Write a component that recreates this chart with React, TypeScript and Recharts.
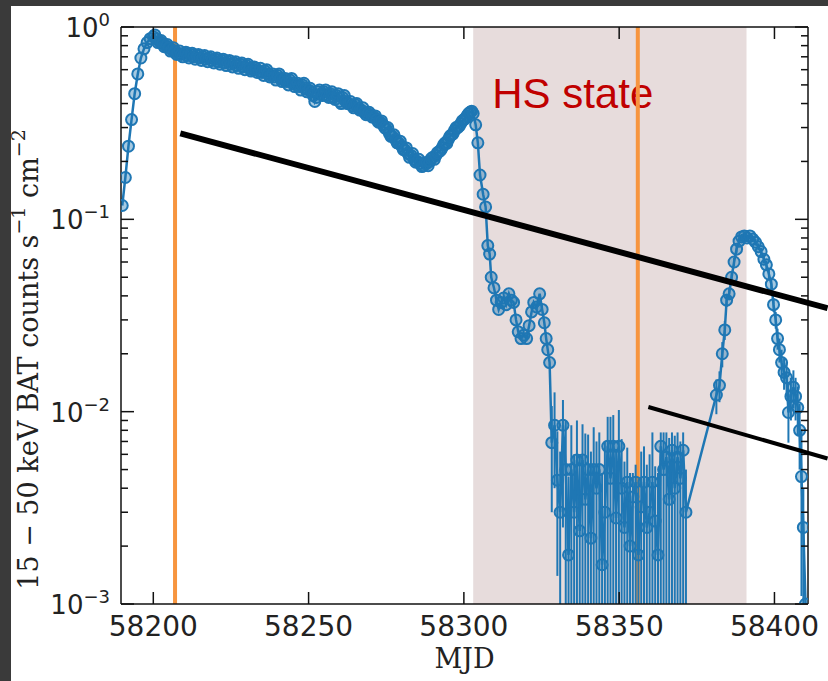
import { LineChart, Line, XAxis, YAxis, ErrorBar, ReferenceArea, ReferenceLine, Label } from 'recharts';

// Swift/BAT 15-50 keV light curve
const outburstMjd = [
  58190, 58191, 58192, 58193, 58194, 58195, 58196, 58197, 58198, 58199,
  58200, 58201, 58202, 58203, 58204, 58205, 58206, 58207, 58208, 58209,
  58210, 58211, 58212, 58213, 58214, 58215, 58216, 58217, 58218, 58219,
  58220, 58221, 58222, 58223, 58224, 58225, 58226, 58227, 58228, 58229,
  58230, 58231, 58232, 58233, 58234, 58235, 58236, 58237, 58238, 58239,
  58240, 58241, 58242, 58243, 58244, 58245, 58246, 58247, 58248, 58249,
  58250, 58251, 58252, 58253, 58254, 58255, 58256, 58257, 58258, 58259,
  58260, 58261, 58262, 58263, 58264, 58265, 58266, 58267, 58268, 58269,
  58270, 58271, 58272, 58273, 58274, 58275, 58276, 58277, 58278, 58279,
  58280, 58281, 58282, 58283, 58284, 58285, 58286, 58287, 58288, 58289,
  58290, 58291, 58292, 58293, 58294, 58295, 58296, 58297, 58298, 58299,
  58300, 58301, 58302, 58303,
];
const outburstRate = [
  0.118, 0.165, 0.24, 0.33, 0.45, 0.57, 0.69, 0.77, 0.83, 0.87,
  0.89, 0.87, 0.84, 0.82, 0.80, 0.78, 0.76, 0.75, 0.73, 0.72,
  0.73, 0.71, 0.72, 0.70, 0.71, 0.69, 0.70, 0.68, 0.69, 0.67,
  0.68, 0.66, 0.67, 0.65, 0.66, 0.64, 0.65, 0.63, 0.64, 0.62,
  0.63, 0.61, 0.60, 0.61, 0.59, 0.58, 0.59, 0.57, 0.56, 0.55,
  0.56, 0.54, 0.53, 0.52, 0.53, 0.51, 0.50, 0.49, 0.50, 0.48,
  0.47, 0.46, 0.41, 0.46, 0.45, 0.46, 0.44, 0.45, 0.43, 0.44,
  0.41, 0.43, 0.41, 0.40, 0.39, 0.395, 0.38, 0.37, 0.36, 0.355,
  0.35, 0.34, 0.33, 0.32, 0.31, 0.295, 0.28, 0.27, 0.26, 0.25,
  0.24, 0.23, 0.22, 0.215, 0.205, 0.20, 0.195, 0.19, 0.195, 0.20,
  0.21, 0.215, 0.225, 0.235, 0.25, 0.26, 0.275, 0.29, 0.30, 0.315,
  0.33, 0.345, 0.36, 0.355,
];

// second daily visit, half a day later (gives the band its thickness)
const visitBMjd = [
  58200.5, 58201.5, 58202.5, 58203.5, 58204.5, 58205.5, 58206.5, 58207.5, 58208.5, 58209.5,
  58210.5, 58211.5, 58212.5, 58213.5, 58214.5, 58215.5, 58216.5, 58217.5, 58218.5, 58219.5,
  58220.5, 58221.5, 58222.5, 58223.5, 58224.5, 58225.5, 58226.5, 58227.5, 58228.5, 58229.5,
  58230.5, 58231.5, 58232.5, 58233.5, 58234.5, 58235.5, 58236.5, 58237.5, 58238.5, 58239.5,
  58240.5, 58241.5, 58242.5, 58243.5, 58244.5, 58245.5, 58246.5, 58247.5, 58248.5, 58249.5,
  58250.5, 58251.5, 58252.5, 58253.5, 58254.5, 58255.5, 58256.5, 58257.5, 58258.5, 58259.5,
  58260.5, 58261.5, 58262.5, 58263.5, 58264.5, 58265.5, 58266.5, 58267.5, 58268.5, 58269.5,
  58270.5, 58271.5, 58272.5, 58273.5, 58274.5, 58275.5, 58276.5, 58277.5, 58278.5, 58279.5,
  58280.5, 58281.5, 58282.5, 58283.5, 58284.5, 58285.5, 58286.5, 58287.5, 58288.5, 58289.5,
  58290.5, 58291.5, 58292.5, 58293.5, 58294.5, 58295.5, 58296.5, 58297.5, 58298.5, 58299.5,
  58300.5, 58301.5, 58302.5,
];
const visitBRate = [
  0.91, 0.83, 0.85, 0.79, 0.81, 0.75, 0.78, 0.72, 0.75, 0.70,
  0.74, 0.69, 0.73, 0.68, 0.72, 0.67, 0.71, 0.66, 0.70, 0.65,
  0.69, 0.64, 0.68, 0.63, 0.67, 0.62, 0.66, 0.61, 0.65, 0.60,
  0.64, 0.59, 0.62, 0.58, 0.61, 0.56, 0.60, 0.55, 0.57, 0.53,
  0.57, 0.52, 0.54, 0.50, 0.54, 0.49, 0.51, 0.47, 0.51, 0.46,
  0.48, 0.44, 0.43, 0.47, 0.44, 0.47, 0.43, 0.46, 0.42, 0.45,
  0.40, 0.44, 0.40, 0.41, 0.38, 0.40, 0.37, 0.38, 0.35, 0.36,
  0.34, 0.345, 0.32, 0.325, 0.30, 0.30, 0.27, 0.275, 0.25, 0.255,
  0.23, 0.235, 0.21, 0.22, 0.198, 0.205, 0.188, 0.197, 0.19, 0.207,
  0.205, 0.222, 0.228, 0.245, 0.248, 0.27, 0.278, 0.30, 0.305, 0.325,
  0.335, 0.355, 0.365,
];

const decayMjd = [
  58303.8, 58304.5, 58305.2, 58306.2, 58307.0, 58307.7, 58308.3, 58308.8, 58309.7, 58310.5,
  58311.2, 58312.0, 58312.8, 58313.6, 58314.5, 58315.3, 58316.0, 58316.8, 58317.5, 58318.4,
  58319.3, 58320.2, 58321.0, 58321.8, 58322.5, 58323.4, 58324.4, 58325.2, 58325.9, 58326.5,
  58327.0, 58327.6,
];
const decayRate = [
  0.31, 0.25, 0.17, 0.135, 0.116, 0.073, 0.066, 0.050, 0.044, 0.038,
  0.034, 0.037, 0.039, 0.036, 0.041, 0.038, 0.037, 0.030, 0.026, 0.024,
  0.025, 0.024, 0.028, 0.033, 0.037, 0.035, 0.041, 0.034, 0.029, 0.024,
  0.021, 0.018,
];

const hsMjd = [
  58328.3, 58329.2, 58330.1, 58331.0, 58331.9, 58332.8, 58333.7, 58334.6, 58335.5, 58336.4,
  58337.3, 58338.2, 58339.1, 58340.0, 58340.9, 58341.8, 58342.7, 58343.6, 58344.5, 58345.4,
  58346.3, 58347.2, 58348.1, 58349.0, 58349.9, 58350.8, 58351.7, 58352.6, 58353.5, 58354.4,
  58355.3, 58356.2, 58357.1, 58358.0, 58358.9, 58359.8, 58360.7, 58361.6, 58362.5, 58363.4,
  58364.3, 58365.2, 58366.1, 58367.0, 58367.9, 58368.8, 58369.7, 58370.6, 58371.5,
];
const hsRate = [
  0.0069, 0.0085, 0.0044, 0.0030, 0.0085, 0.0050, 0.0018, 0.0050, 0.0030, 0.0056,
  0.0024, 0.0056, 0.0035, 0.0050, 0.0022, 0.0050, 0.0040, 0.0050, 0.0016, 0.0030,
  0.0066, 0.0045, 0.0066, 0.0028, 0.0066, 0.0040, 0.0025, 0.0043, 0.0020, 0.0036,
  0.0043, 0.0018, 0.0032, 0.0043, 0.0025, 0.0030, 0.0043, 0.0027, 0.0018, 0.0066,
  0.0050, 0.0058, 0.0035, 0.0063, 0.0040, 0.0058, 0.0045, 0.0063, 0.0030,
];
const hsErrLo = [
  0.0039, 0.0045, 0.0030, 0.0026, 0.0060, 0.0052, 0.0050, 0.0055, 0.0048, 0.0058,
  0.0050, 0.0062, 0.0050, 0.0056, 0.0050, 0.0058, 0.0052, 0.0060, 0.0050, 0.0052,
  0.0064, 0.0055, 0.0066, 0.0052, 0.0064, 0.0054, 0.0050, 0.0056, 0.0050, 0.0055,
  0.0058, 0.0050, 0.0054, 0.0056, 0.0050, 0.0052, 0.0058, 0.0050, 0.0050, 0.0064,
  0.0058, 0.0060, 0.0052, 0.0062, 0.0055, 0.0060, 0.0055, 0.0062, 0.0035,
];
const hsErrHi = [
  0.0038, 0.0041, 0.0035, 0.0032, 0.0030, 0.0040, 0.0028, 0.0035, 0.0030, 0.0034,
  0.0036, 0.0030, 0.0042, 0.0026, 0.0040, 0.0033, 0.0030, 0.0028, 0.0032, 0.0040,
  0.0028, 0.0049, 0.0030, 0.0036, 0.0036, 0.0032, 0.0030, 0.0022, 0.0028, 0.0012,
  0.0010, 0.0025, 0.0030, 0.0023, 0.0028, 0.0030, 0.0035, 0.0025, 0.0030, 0.0012,
  0.0028, 0.0020, 0.0038, 0.0015, 0.0035, 0.0020, 0.0025, 0.0015, 0.0020,
];

const reflareMjd = [
  58381.3, 58382.3, 58383.2, 58384.0, 58384.6, 58385.4, 58386.2, 58387.0, 58387.8, 58388.6,
  58389.4, 58390.3, 58391.2, 58392.1, 58393.0, 58393.9, 58394.8, 58395.7, 58396.6, 58397.4,
  58398.2, 58399.0, 58399.7, 58400.4, 58401.0, 58401.6, 58402.3, 58403.1, 58403.9, 58404.5,
  58405.3, 58406.1, 58406.8, 58407.5, 58408.1, 58408.7, 58409.3, 58410.0,
];
const reflareRate = [
  0.0122, 0.0137, 0.020, 0.0266, 0.038, 0.041, 0.050, 0.060, 0.070, 0.077,
  0.081, 0.082, 0.080, 0.082, 0.079, 0.076, 0.072, 0.068, 0.062, 0.058,
  0.052, 0.046, 0.036, 0.030, 0.024, 0.021, 0.018, 0.016, 0.015, 0.0099,
  0.012, 0.0134, 0.012, 0.0105, 0.0080, 0.0046, 0.0025, 0.0010,
];
const reflareErr = [
  0.0025, 0.0025, 0.003, 0.003, 0.003, 0.003, 0.003, 0.003, 0.003, 0.003,
  0.003, 0.003, 0.003, 0.003, 0.003, 0.003, 0.003, 0.003, 0.003, 0.003,
  0.003, 0.003, 0.003, 0.003, 0.003, 0.003, 0.003, 0.003, 0.003, 0.003,
  0.003, 0.003, 0.003, 0.003, 0.003, 0.0035, 0.0015, 0,
];

// markers on the figure
const toOMjd = [58207, 58356];
const hsState = [58303, 58391];
const arrowA = [{ x: 58208.7, y: 0.28 }, { x: 58417.1, y: 0.0345 }];
const arrowB = [{ x: 58359.4, y: 0.01057 }, { x: 58417.1, y: 0.00571 }];

const xTicks = [58200, 58250, 58300, 58350, 58400];
const yTicks = [
  0.001, 0.002, 0.003, 0.004, 0.005, 0.006, 0.007, 0.008, 0.009,
  0.01, 0.02, 0.03, 0.04, 0.05, 0.06, 0.07, 0.08, 0.09,
  0.1, 0.2, 0.3, 0.4, 0.5, 0.6, 0.7, 0.8, 0.9, 1,
];

const X_DOMAIN = [58189.6, 58410.8];
const Y_DOMAIN = [0.001, 1];
const Y_MIN = Y_DOMAIN[0];
const BLUE = '#1f77b4';

// lower bars that run below the axis are stopped at the bottom edge
const bar = (v: number, lo: number, hi: number) => [v > Y_MIN ? Math.min(lo, v - Y_MIN) : 0, hi];

const data = [
  ...outburstMjd.map((m, i) => ({ mjd: m, rate: outburstRate[i], err: [0, 0] })),
  ...visitBMjd.map((m, i) => ({ mjd: m, rate: visitBRate[i], err: [0, 0] })),
  ...decayMjd.map((m, i) => ({ mjd: m, rate: decayRate[i], err: [0, 0] })),
  ...hsMjd.map((m, i) => ({ mjd: m, rate: hsRate[i], err: bar(hsRate[i], hsErrLo[i], hsErrHi[i]) })),
  ...reflareMjd.map((m, i) => ({ mjd: m, rate: reflareRate[i], err: bar(reflareRate[i], reflareErr[i], reflareErr[i]) })),
].sort((a, b) => a.mjd - b.mjd);

const isDecade = (v: number) => Math.abs(Math.log10(v) - Math.round(Math.log10(v))) < 1e-6;

function LeftTick({ x, y, payload }: any) {
  const major = isDecade(payload.value);
  const exp = Math.round(Math.log10(payload.value));
  return (
    <g>
      <line x1={x} x2={x + (major ? 13 : 7)} y1={y} y2={y} stroke="#111" strokeWidth={1.5} />
      {major && (
        <text x={x - 11} y={y + 10} textAnchor="end" fontFamily="DejaVu Sans" fontSize={26} fill="#222">
          10<tspan dy={-11} fontSize={18}>{exp === 0 ? '0' : `−${-exp}`}</tspan>
        </text>
      )}
    </g>
  );
}

function RightTick({ x, y, payload }: any) {
  const major = isDecade(payload.value);
  return <line x1={x} x2={x - (major ? 13 : 7)} y1={y} y2={y} stroke="#111" strokeWidth={1.5} />;
}

function BottomTick({ x, y, payload }: any) {
  return (
    <g>
      <line x1={x} x2={x} y1={y} y2={y - 12} stroke="#111" strokeWidth={1.5} />
      <text x={x} y={y + 32} textAnchor="middle" fontFamily="DejaVu Sans" fontSize={28} fill="#222">
        {payload.value}
      </text>
    </g>
  );
}

function TopTick({ x, y }: any) {
  return <line x1={x} x2={x} y1={y} y2={y + 12} stroke="#111" strokeWidth={1.5} />;
}

function YTitle({ viewBox }: any) {
  const cx = viewBox.x + 17;
  const cy = viewBox.y + viewBox.height / 2 + 44;
  return (
    <text x={cx} y={cy} transform={`rotate(-90, ${cx}, ${cy})`} textAnchor="middle" dominantBaseline="central"
      fontFamily="DejaVu Serif" fontSize={27} fill="#222">
      15 − 50 keV BAT counts s<tspan dy={-10} fontSize={19}>−1</tspan>
      <tspan dy={10}> cm</tspan><tspan dy={-10} fontSize={19}>−2</tspan>
    </text>
  );
}

function XTitle({ viewBox }: any) {
  return (
    <text x={viewBox.x + viewBox.width / 2} y={viewBox.y + 64} textAnchor="middle"
      fontFamily="DejaVu Serif" fontSize={27} fill="#222">
      MJD
    </text>
  );
}

function HsLabel({ viewBox }: any) {
  return (
    <text x={viewBox.x + 19} y={viewBox.y + 81} fontFamily="Liberation Sans, Arial" fontSize={42} fill="#c00000">
      HS state
    </text>
  );
}

export default function App() {
  const axisLine = { stroke: '#111', strokeWidth: 1.5 };
  return (
    <div style={{ position: 'absolute', left: 0, top: 0, width: 828, height: 681, background: '#3a3a3a', overflow: 'hidden' }}>
      <div style={{ position: 'absolute', left: 11, top: 6, right: 0, bottom: 0, background: '#ffffff' }} />
      <div style={{ position: 'absolute', left: 0, top: 0 }}>
        <LineChart width={828} height={681} data={data} margin={{ top: 26, right: 19, bottom: 17, left: 11 }}>
          <ReferenceArea x1={hsState[0]} x2={hsState[1]} fill="#e7dcdc" fillOpacity={1} stroke="none"
            label={(p: any) => <HsLabel viewBox={p.viewBox} />} />
          {toOMjd.map((m) => (
            <ReferenceLine key={m} x={m} stroke="#f7953f" strokeWidth={4} />
          ))}
          <XAxis dataKey="mjd" type="number" domain={X_DOMAIN} allowDataOverflow ticks={xTicks} interval={0}
            height={60} tickSize={0} tickMargin={0} tick={<BottomTick />} axisLine={axisLine} tickLine={false}>
            <Label content={<XTitle />} />
          </XAxis>
          <XAxis xAxisId="top" dataKey="mjd" orientation="top" type="number" domain={X_DOMAIN} allowDataOverflow
            ticks={xTicks} interval={0} height={1} tickSize={0} tickMargin={0} tick={<TopTick />} axisLine={axisLine}
            tickLine={false} />
          <YAxis scale="log" type="number" domain={Y_DOMAIN} allowDataOverflow ticks={yTicks} interval={0} width={110}
            tickSize={0} tickMargin={0} tick={<LeftTick />} axisLine={axisLine} tickLine={false}>
            <Label content={<YTitle />} />
          </YAxis>
          <YAxis yAxisId="right" orientation="right" scale="log" type="number" domain={Y_DOMAIN} allowDataOverflow
            ticks={yTicks} interval={0} width={1} tickSize={0} tickMargin={0} tick={<RightTick />} axisLine={axisLine}
            tickLine={false} />
          {/* invisible copy that carries the mirrored top/right axes */}
          <Line xAxisId="top" yAxisId="right" dataKey="rate" stroke="none" dot={false} activeDot={false}
            legendType="none" isAnimationActive={false} />
          <Line type="linear" dataKey="rate" stroke={BLUE} strokeWidth={2.5}
            dot={{ r: 5.5, stroke: BLUE, strokeWidth: 2, fill: BLUE, fillOpacity: 0.4 }}
            isAnimationActive={false}>
            <ErrorBar dataKey="err" direction="y" width={0} stroke={BLUE} strokeWidth={2} isAnimationActive={false} />
          </Line>
          <ReferenceLine segment={arrowA} stroke="#000" strokeWidth={6} ifOverflow="visible" zIndex={2500} />
          <ReferenceLine segment={arrowB} stroke="#000" strokeWidth={4} ifOverflow="visible" zIndex={2500} />
        </LineChart>
      </div>
    </div>
  );
}
